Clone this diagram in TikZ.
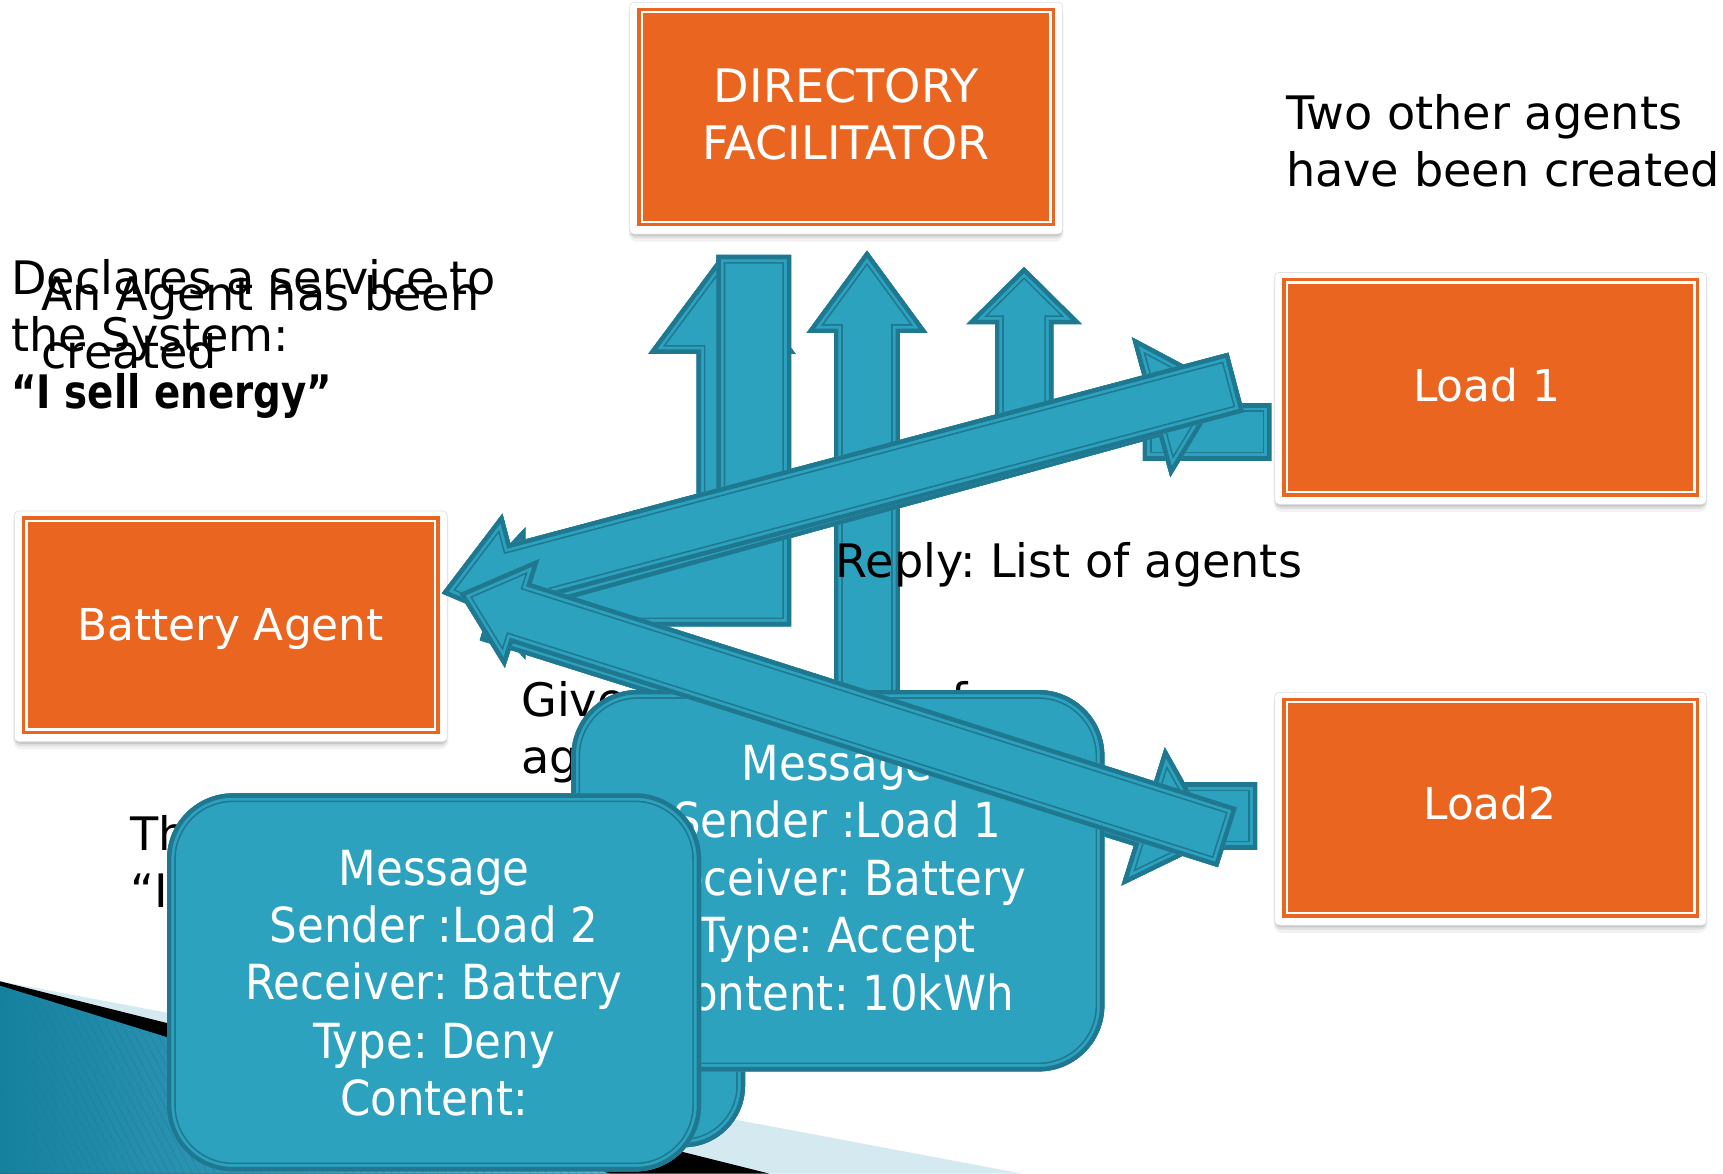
\documentclass[tikz,border=0pt]{standalone}
\usepackage{fontspec}
\setmainfont{DejaVu Sans}
\newfontfamily\msgfont[FakeStretch=0.9]{DejaVu Sans}
\usetikzlibrary{calc}
\frenchspacing

\definecolor{boxorange}{HTML}{E96520}
\definecolor{abfill}{HTML}{2CA2BF}
\definecolor{abedge}{HTML}{1F788F}
\definecolor{bandlight}{HTML}{D5E9F1}
\definecolor{stripedark}{HTML}{16809F}
\definecolor{stripelight}{HTML}{5DBADA}

% blue block shape: fill, thick inner edge and a thin inset line
\newcommand\blueshape[1]{%
  \fill[abfill] #1;
  \begin{scope}
    \clip #1;
    \draw[abedge, line width=8pt] #1;
    \draw[abfill, line width=6.5pt] #1;
    \draw[abedge, line width=4pt] #1;
  \end{scope}}

% corner points of a block arrow: name, tail, tip, shaft half width, head half width, head length
\newcommand\arrowpts[6]{%
  \coordinate (#1-t) at (#3);
  \coordinate (#1-b) at (#2);
  \coordinate (#1-h) at ($(#1-t)!#6!(#1-b)$);
  \coordinate (#1-s1) at ($(#1-b)!#4!90:(#1-t)$);
  \coordinate (#1-s2) at ($(#1-b)!#4!-90:(#1-t)$);
  \coordinate (#1-h1) at ($(#1-h)!#4!90:(#1-t)$);
  \coordinate (#1-h2) at ($(#1-h)!#4!-90:(#1-t)$);
  \coordinate (#1-w1) at ($(#1-h)!#5!90:(#1-t)$);
  \coordinate (#1-w2) at ($(#1-h)!#5!-90:(#1-t)$);}
\newcommand\bluearrow[1]{\blueshape{(#1-s1) -- (#1-h1) -- (#1-w1) -- (#1-t) -- (#1-w2) -- (#1-h2) -- (#1-s2) -- cycle}}

% orange agent box with white frame and soft shadow
\newcommand\orangebox[4]{%
  \fill[black, opacity=0.05, rounded corners=4pt] ({#1-8},{#2-3}) rectangle ({#3+8},{#4+14});
  \fill[black, opacity=0.08, rounded corners=3pt] ({#1-7},{#2-3}) rectangle ({#3+7},{#4+11});
  \fill[black, opacity=0.10, rounded corners=3pt] ({#1-7},{#2-3}) rectangle ({#3+7},{#4+9});
  \filldraw[fill=white, draw=black!12, line width=0.3pt, rounded corners=2pt] ({#1-7},{#2-5}) rectangle ({#3+7},{#4+7});
  \fill[boxorange] (#1,#2) rectangle (#3,#4);
  \draw[white, line width=1.1pt] ({#1+4},{#2+4}) rectangle ({#3-4},{#4-4});}

\begin{document}
\begin{tikzpicture}[x=0.5pt, y=-0.5pt,
  txt/.style={anchor=base west, inner sep=0pt, font=\fontsize{21}{26}\selectfont, text=black},
  lbl/.style={anchor=base, inner sep=0pt, font=\fontsize{21}{26}\selectfont, text=white},
  msg/.style={anchor=base, inner sep=0pt, font=\msgfont\fontsize{22}{26}\selectfont, text=white}]
\useasboundingbox (0,0) rectangle (1568,1068);
\fill[white] (0,0) rectangle (1568,1068);

% corner decoration
\fill[bandlight] (0,893) -- (930,1068) -- (0,1068) -- cycle;
\fill[black] (0,893) -- (700,1068) -- (0,1068) -- cycle;
\shade[left color=stripedark, right color=stripelight] (0,897) -- (555,1068) -- (0,1068) -- cycle;
\begin{scope}
  \clip (0,897) -- (555,1068) -- (0,1068) -- cycle;
  \foreach \i in {-120,-113,...,560} \draw[stripedark, opacity=0.45, line width=0.4pt] (\i,880) -- ++(100,190);
\end{scope}

% free texts
\node[txt] (decl-a) at (10,268) {Declares a service to};
\node[txt] (decl-b) at (10,320) {the System:};
\node[txt] (decl-c) at (10,372) {\bfseries\scalebox{0.84}[1]{“I sell energy”}};
\node[txt] (made-a) at (37,283) {An Agent has been};
\node[txt] (made-b) at (37,335) {created};
\node[txt] (two-a) at (1170,118) {Two other agents};
\node[txt] (two-b) at (1170,170) {have been created};
\node[txt] (give-a) at (474,652) {Gives the full list of};
\node[txt] (give-b) at (474,704) {agents};
\node[txt] (then-a) at (118,774) {The Battery answers:};
\node[txt] (then-b) at (118,826) {“I sell energy”};

% agent boxes
\orangebox{580}{7}{960}{206}
\node[lbl] (df-a) at (770,93) {DIRECTORY};
\node[lbl] (df-b) at (770,145) {FACILITATOR};
\orangebox{1167}{253}{1546}{452}
\node[lbl, font=\fontsize{20}{24}\selectfont] (load1) at (1353,365) {Load 1};
\orangebox{1167}{635}{1546}{835}
\node[lbl, font=\fontsize{20}{24}\selectfont] (load2) at (1356,746) {Load2};
\orangebox{20}{470}{400}{668}
\node[lbl, font=\fontsize{20}{24}\selectfont] (battery) at (210,583) {Battery Agent};

% requests to the directory facilitator
\arrowpts{u1}{657,565}{657,232}{11.5pt}{33.5pt}{45pt}
\bluearrow{u1}
\blueshape{(652,232) -- (720,232) -- (720,570) -- (478,570) -- (478,600) -- (422,540) -- (478,480) -- (478,495) -- (652,495) -- cycle}
\arrowpts{u2}{789,745}{789,228}{15pt}{27.5pt}{37.5pt}
\bluearrow{u2}
\arrowpts{u3}{932,415}{932,243}{13.25pt}{26.25pt}{26pt}
\bluearrow{u3}

% battery to loads
\blueshape{(1040,367) rectangle (1157,419)}
\blueshape{(1040,712) rectangle (1144,773)}
\arrowpts{bl1}{445,536}{1115,352}{14pt}{33pt}{35pt}
\bluearrow{bl1}
\arrowpts{bl2}{445,556}{1107,764}{14pt}{33pt}{35pt}
\bluearrow{bl2}

\node[txt] (reply) at (760,526) {Reply: List of agents};

% load 1 to battery
\arrowpts{lb1}{1125,348}{402,540}{14pt}{28pt}{36pt}
\bluearrow{lb1}

% messages
\blueshape{[rounded corners=28pt] (180,745) rectangle (678,1044)}
\blueshape{[rounded corners=30pt] (520,628) rectangle (1005,975)}
\node[msg] (m1-a) at (762,710) {Message};
\node[msg] (m1-b) at (762,762) {Sender :Load 1};
\node[msg] (m1-c) at (762,815) {Receiver: Battery};
\node[msg] (m1-d) at (762,867) {Type: Accept};
\node[msg] (m1-e) at (762,920) {Content: 10kWh};

% load 2 to battery
\arrowpts{lb2}{1117,762}{418,540}{14.25pt}{26pt}{30pt}
\bluearrow{lb2}

\blueshape{[rounded corners=30pt] (152,722) rectangle (638,1066)}
\node[msg] (m2-a) at (395,806) {Message};
\node[msg] (m2-b) at (395,858) {Sender :Load 2};
\node[msg] (m2-c) at (395,910) {Receiver: Battery};
\node[msg] (m2-d) at (395,963) {Type: Deny};
\node[msg] (m2-e) at (395,1015) {Content:};
\end{tikzpicture}
\end{document}
